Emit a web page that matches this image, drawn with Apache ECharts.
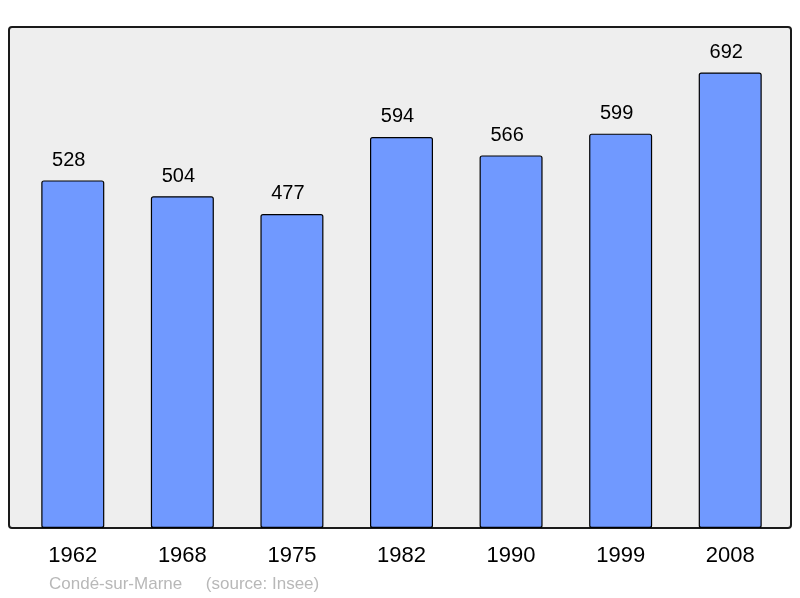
<!DOCTYPE html>
<html lang="fr">
<head>
    <meta charset="UTF-8">
    <title>Population</title>
    <script src="https://cdn.jsdelivr.net/npm/echarts@6/dist/echarts.min.js"></script>
    <style>
        html, body { margin: 0; padding: 0; background: #fff; }
        #main { width: 800px; height: 598px; }
    </style>
</head>
<body>
<div id="main"></div>
<script>
    // données
    var years = ['1962', '1968', '1975', '1982', '1990', '1999', '2008'];
    var population = [528, 504, 477, 594, 566, 599, 692];
    var yMax = 761;

    var myChart = echarts.init(document.getElementById('main'));
    var option = {
        animation: false,
        graphic: [
            {
                type: 'rect',
                z: -1,
                shape: { x: 9, y: 27, width: 782, height: 501, r: 3 },
                style: { fill: '#eeeeee', stroke: '#1a1a1a', lineWidth: 2 }
            },
            {
                type: 'text',
                left: 49,
                top: 576,
                style: {
                    text: 'Condé-sur-Marne     (source: Insee)',
                    fill: '#b8b8b8',
                    font: '17px "Liberation Sans", Arial, sans-serif'
                }
            }
        ],
        grid: { left: 18, right: 15, top: 27, bottom: 70 },
        xAxis: {
            type: 'category',
            data: years,
            axisLine: { show: false },
            axisTick: { show: false },
            axisLabel: {
                margin: 17,
                color: '#000',
                fontSize: 22,
                fontFamily: '"Liberation Sans", Arial, sans-serif'
            }
        },
        yAxis: {
            type: 'value',
            min: 0,
            max: yMax,
            show: false,
            splitLine: { show: false }
        },
        series: [{
            type: 'bar',
            data: population,
            barWidth: 63,
            itemStyle: {
                color: '#7099ff',
                borderColor: '#000',
                borderWidth: 1.2,
                borderRadius: 2
            },
            label: {
                show: true,
                position: 'top',
                distance: 10,
                offset: [-4, 0],
                color: '#000',
                fontSize: 20,
                fontFamily: '"Liberation Sans", Arial, sans-serif'
            }
        }]
    };
    myChart.setOption(option);
</script>
</body>
</html>
